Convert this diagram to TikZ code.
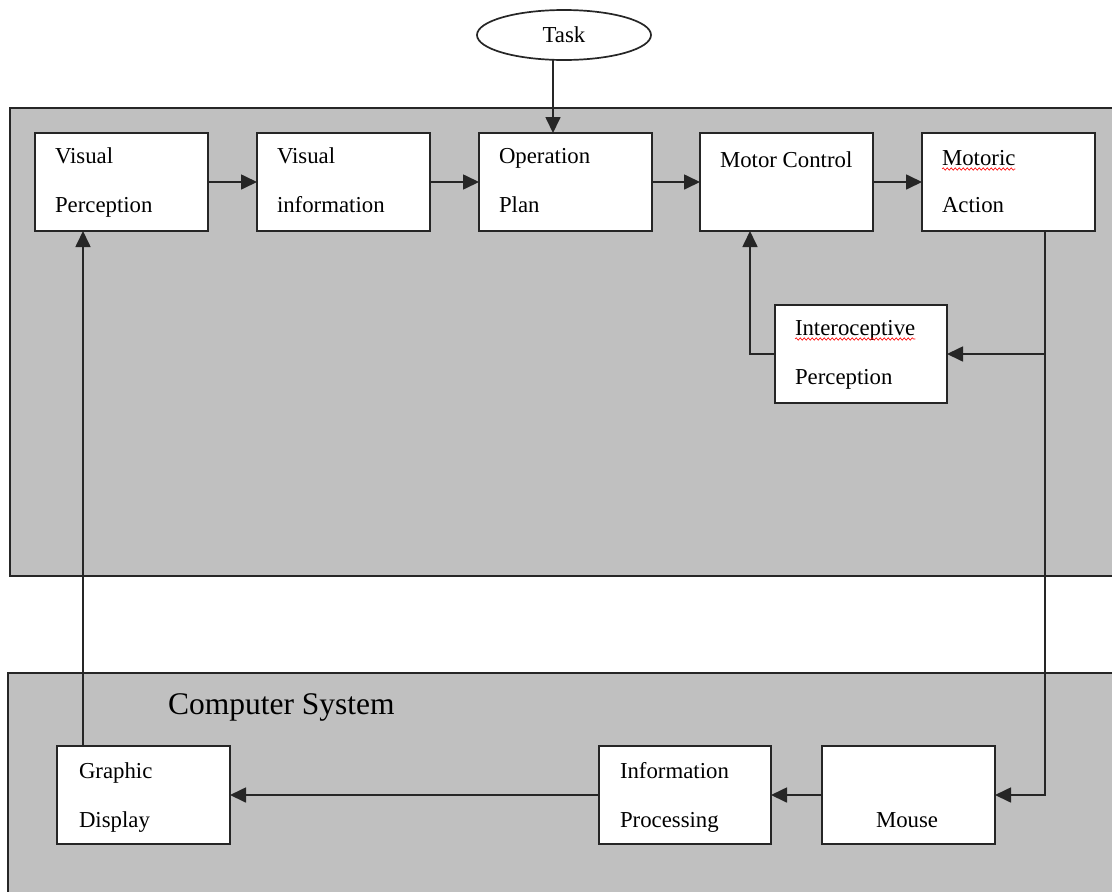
\documentclass[tikz,border=0pt]{standalone}
\usepackage{fontspec}
\setmainfont{Liberation Serif}
\usetikzlibrary{arrows.meta,shapes.geometric,decorations.pathmorphing}
\definecolor{panelgray}{RGB}{192,192,192}
\begin{document}
\begin{tikzpicture}[x=1pt,y=-1pt,
  every node/.style={inner sep=0pt,outer sep=0pt},
  panel/.style={draw=black!85,line width=1.7pt,fill=panelgray},
  box/.style={draw=black!85,line width=1.7pt,fill=white,minimum width=173pt,minimum height=98pt,anchor=north west},
  txt/.style={anchor=base west,font=\fontsize{22.8}{27}\selectfont},
  conn/.style={line width=1.7pt,draw=black!85},
  arr/.style={conn,-{Triangle[length=16pt,width=15pt]}},
  squiggle/.style={red,line width=0.6pt,decorate,decoration={snake,amplitude=1.2pt,segment length=4pt}}]
\useasboundingbox (0,0) rectangle (1112,892);
\clip (0,0) rectangle (1112,892);
% panels
\path[panel] (10,108) rectangle (1130,576);
\path[panel] (8,673) rectangle (1130,910);
% task
\node[draw=black!85,line width=1.7pt,fill=white,ellipse,minimum width=174pt,minimum height=50pt,
      font=\fontsize{22.8}{27}\selectfont] (task) at (564,35) {Task};
% top row boxes
\node[box] (vp) at (35,133) {};
\node[box] (vi) at (257,133) {};
\node[box] (op) at (479,133) {};
\node[box] (mc) at (700,133) {};
\node[box] (ma) at (922,133) {};
\node[box,minimum width=172pt] (ip) at (775,305) {};
% bottom row boxes
\node[box] (gd) at (57,746) {};
\node[box,minimum width=172pt] (inf) at (599,746) {};
\node[box] (mouse) at (822,746) {};
% texts
\node[txt] (t1) at (55,163) {Visual};
\node[txt] (t2) at (55,212) {Perception};
\node[txt] (t3) at (277,163) {Visual};
\node[txt] (t4) at (277,212) {information};
\node[txt] (t5) at (499,163) {Operation};
\node[txt] (t6) at (499,212) {Plan};
\node[txt] (t7) at (720,167) {Motor Control};
\node[txt] (t8) at (942,165) {Motoric};
\node[txt] (t9) at (942,212) {Action};
\node[txt] (t10) at (795,335) {Interoceptive};
\node[txt] (t11) at (795,384) {Perception};
\node[txt] (t12) at (79,778) {Graphic};
\node[txt] (t13) at (79,827) {Display};
\node[txt] (t14) at (620,778) {Information};
\node[txt] (t15) at (620,827) {Processing};
\node[txt] (t16) at (876,827) {Mouse};
\node[anchor=base west,font=\fontsize{31.5}{36}\selectfont] (cs) at (168,714) {Computer System};
% spell-check squiggles
\draw[squiggle] ([yshift=-4pt]t8.base west) -- ([yshift=-4pt]t8.base east);
\draw[squiggle] ([yshift=-4pt]t10.base west) -- ([yshift=-4pt]t10.base east);
% connectors
\draw[arr] ([xshift=-11pt]task.south) -- ([xshift=-12.5pt]op.north);
\draw[arr] (vp.east) -- (vi.west);
\draw[arr] (vi.east) -- (op.west);
\draw[arr] (op.east) -- (mc.west);
\draw[arr] (mc.east) -- (ma.west);
\coordinate (corner) at (1045,795);
\coordinate (branch) at (1045,354);
\coordinate (ibend) at (750,354);
\coordinate (gdup) at (83,746);
\draw[arr] (ma.south -| corner) -- (corner) -- (mouse.east);
\draw[arr] (branch) -- (ip.east);
\draw[arr] (ip.west) -- (ibend) -- (ibend |- mc.south);
\draw[arr] (mouse.west) -- (inf.east);
\draw[arr] (inf.west) -- (gd.east);
\draw[arr] (gdup) -- (gdup |- vp.south);
\end{tikzpicture}
\end{document}
